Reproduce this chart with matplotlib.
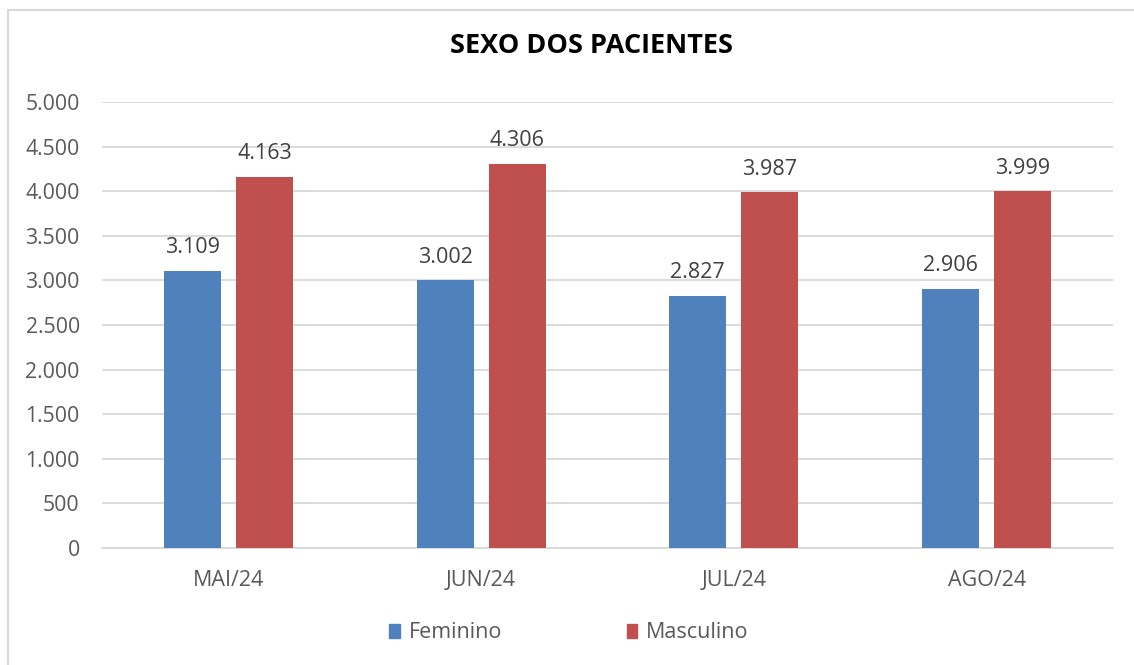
from matplotlib import pyplot as plt
from matplotlib.patches import Patch, Rectangle
import numpy as np

months = ['MAI/24', 'JUN/24', 'JUL/24', 'AGO/24']
feminino = [3109, 3002, 2827, 2906]
masculino = [4163, 4306, 3987, 3999]
y_ticks = [0, 500, 1000, 1500, 2000, 2500, 3000, 3500, 4000, 4500, 5000]

blue = '#4F81BD'
red = '#C0504D'
text_color = '#595959'

plt.rcParams['font.family'] = ['Open Sans', 'DejaVu Sans']


def fmt(v):
    return f'{v:,}'.replace(',', '.')


fig = plt.figure(figsize=(11.34, 6.65), dpi=100)
fig.patches.append(Rectangle((8 / 1134, -0.1), 1.2, 1 - 10 / 665 + 0.1,
                             transform=fig.transFigure, fill=False,
                             edgecolor='#d9d9d9', linewidth=1.5))

ax = fig.add_axes([102 / 1134, 117 / 665, 1011 / 1134, 446 / 665])

x = np.arange(len(months))
width = 0.225
offset = 0.1425

bars_f = ax.bar(x - offset, feminino, width, color=blue, zorder=3)
bars_m = ax.bar(x + offset, masculino, width, color=red, zorder=3)

for bars, values in ((bars_f, feminino), (bars_m, masculino)):
    for bar, v in zip(bars, values):
        ax.annotate(fmt(v),
                    xy=(bar.get_x() + bar.get_width() / 2, v),
                    xytext=(0, 16.5), textcoords='offset points',
                    ha='center', va='center', fontsize=15.5, color='#404040')

ax.set_xlim(-0.5, len(months) - 0.5)
ax.set_ylim(0, 5000)
ax.set_yticks(y_ticks)
ax.set_yticklabels([fmt(t) for t in y_ticks])
ax.set_xticks(x)
ax.set_xticklabels(months)
ax.tick_params(axis='y', length=0, pad=16, labelsize=15.3, labelcolor=text_color)
ax.tick_params(axis='x', length=0, pad=15.5, labelsize=15.5, labelcolor=text_color)
ax.grid(axis='y', color='#d9d9d9', linewidth=1.3, zorder=0)
for side in ['top', 'right', 'left']:
    ax.spines[side].set_visible(False)
ax.spines['bottom'].set_color('#d9d9d9')
ax.spines['bottom'].set_linewidth(1.3)

fig.text(591 / 1134, 1 - 46 / 665, 'SEXO DOS PACIENTES', ha='center', va='center',
         fontsize=19.5, fontweight='bold', color='black')

handles = [Patch(color=blue, label='Feminino'), Patch(color=red, label='Masculino')]
fig.legend(handles=handles, loc='center', bbox_to_anchor=(569 / 1134, 1 - 633 / 665),
           ncol=2, frameon=False, handlelength=0.47, handleheight=0.6,
           handletextpad=0.42, columnspacing=5.8, fontsize=15.5, labelcolor=text_color)

fig.savefig('out.png', dpi=100)
